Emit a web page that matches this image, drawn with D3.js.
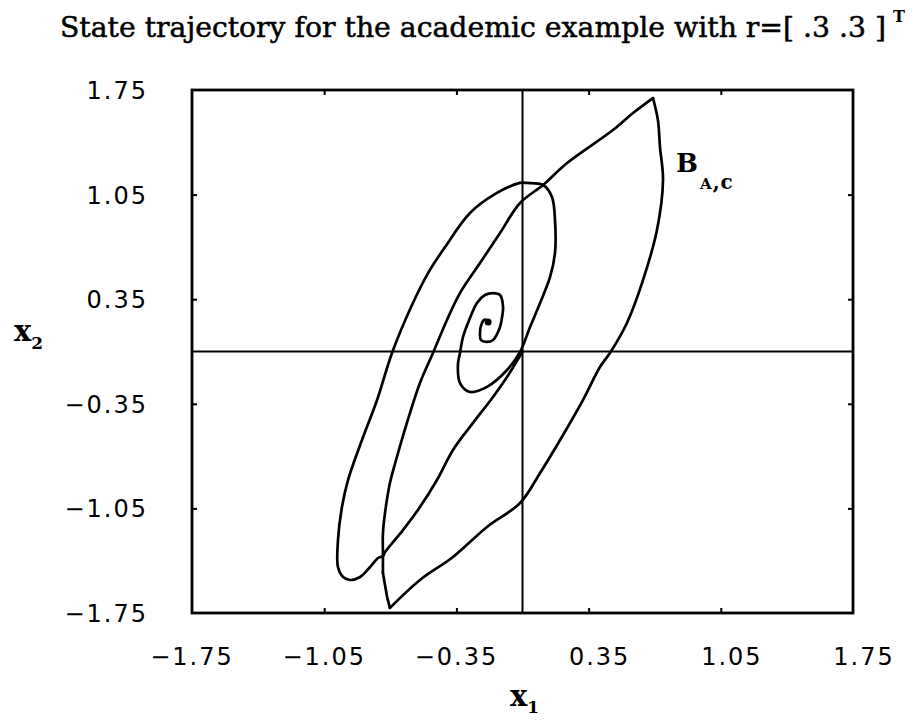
<!DOCTYPE html>
<html>
<head>
<meta charset="utf-8">
<script src="https://cdn.jsdelivr.net/npm/d3@7"></script>
<style>
  body { margin: 0; background: #fff; }
  svg { display: block; }
</style>
</head>
<body>
<svg id="chart" width="912" height="721"></svg>
<script>
// Axis ticks (both axes share the same range)
const xTicks = [-1.75, -1.05, -0.35, 0.35, 1.05, 1.75];
const yTicks = [-1.75, -1.05, -0.35, 0.35, 1.05, 1.75];

// Boundary of the set B_{A,c} (closed curve, x1 / x2)
const regionX = [0.691, 0.585, 0.479, 0.236, 0.109, -0.013, -0.119, -0.225, -0.331, -0.400, -0.474, -0.543, -0.612, -0.665, -0.702, -0.728, -0.739, -0.739, -0.739, -0.717, -0.702, -0.543, -0.368, -0.188, -0.013, 0.093, 0.199, 0.320, 0.410, 0.463, 0.553, 0.638, 0.712, 0.744, 0.728, 0.717, 0.691];
const regionY = [1.696, 1.596, 1.482, 1.261, 1.114, 0.994, 0.793, 0.592, 0.391, 0.211, -0.010, -0.211, -0.478, -0.706, -0.880, -1.081, -1.215, -1.362, -1.482, -1.643, -1.716, -1.529, -1.375, -1.174, -1.014, -0.813, -0.592, -0.325, -0.104, -0.010, 0.191, 0.478, 0.813, 1.148, 1.368, 1.549, 1.696];
// Corners of the boundary (indices into the arrays above)
const regionCorners = [18, 20];

// State trajectory starting at the origin and spiralling to its equilibrium
const trajX = [0, -0.082, -0.156, -0.262, -0.368, -0.453, -0.543, -0.633, -0.728, -0.739, -0.765, -0.807, -0.860, -0.913, -0.950, -0.977, -0.977, -0.956, -0.924, -0.850, -0.770, -0.691, -0.590, -0.500, -0.410, -0.278, -0.135, -0.013, 0.024, 0.109, 0.156, 0.172, 0.172, 0.146, 0.093, 0.040, -0.013, -0.082, -0.188, -0.278, -0.331, -0.342, -0.331, -0.315, -0.278, -0.241, -0.199, -0.156, -0.119, -0.103, -0.109, -0.119, -0.156, -0.188, -0.220, -0.225, -0.220, -0.204, -0.183, -0.177];
const trajY = [0, -0.171, -0.304, -0.478, -0.659, -0.860, -1.041, -1.195, -1.342, -1.369, -1.382, -1.442, -1.509, -1.529, -1.509, -1.442, -1.262, -1.041, -0.860, -0.592, -0.325, -0.010, 0.298, 0.525, 0.699, 0.927, 1.061, 1.128, 1.128, 1.114, 1.034, 0.880, 0.659, 0.499, 0.325, 0.164, -0.003, -0.124, -0.237, -0.271, -0.211, -0.090, -0.010, 0.097, 0.224, 0.325, 0.378, 0.391, 0.378, 0.298, 0.224, 0.164, 0.077, 0.064, 0.077, 0.124, 0.171, 0.211, 0.204, 0.184];

const svg = d3.select("#chart");
svg.append("rect").attr("width", 912).attr("height", 721).attr("fill", "#fff");

const x = d3.scaleLinear().domain([-1.75, 1.75]).range([192, 853]);
const y = d3.scaleLinear().domain([-1.75, 1.75]).range([613, 90]);

const ink = "#000";
const labelFont = "'DejaVu Sans', sans-serif";
const serif = "'DejaVu Serif', serif";

// Title
svg.append("text")
  .attr("x", 60).attr("y", 37)
  .attr("font-family", serif).attr("font-size", 28)
  .attr("textLength", 826).attr("lengthAdjust", "spacingAndGlyphs")
  .attr("fill", ink).attr("stroke", ink).attr("stroke-width", 0.5)
  .text("State trajectory for the academic example with r=[ .3 .3 ]");
svg.append("text")
  .attr("x", 893).attr("y", 22)
  .attr("font-family", serif).attr("font-size", 16).attr("font-weight", "bold")
  .attr("fill", ink).text("T");

// Inner tick marks on all four sides
const innerX = xTicks.filter(v => Math.abs(v) < 1.75);
const innerY = yTicks.filter(v => Math.abs(v) < 1.75);
const tickLen = 5;
const tickStyle = g => g.call(g => g.select(".domain").remove())
  .call(g => g.selectAll(".tick line").attr("stroke", ink).attr("stroke-width", 2));

svg.append("g").attr("transform", `translate(0,${y(-1.75)})`)
  .call(d3.axisBottom(x).tickValues(innerX).tickSize(-tickLen).tickFormat(""))
  .call(tickStyle);
svg.append("g").attr("transform", `translate(0,${y(1.75)})`)
  .call(d3.axisTop(x).tickValues(innerX).tickSize(-tickLen).tickFormat(""))
  .call(tickStyle);
svg.append("g").attr("transform", `translate(${x(-1.75)},0)`)
  .call(d3.axisLeft(y).tickValues(innerY).tickSize(-tickLen).tickFormat(""))
  .call(tickStyle);
svg.append("g").attr("transform", `translate(${x(1.75)},0)`)
  .call(d3.axisRight(y).tickValues(innerY).tickSize(-tickLen).tickFormat(""))
  .call(tickStyle);

// Zero lines
svg.append("line")
  .attr("x1", x(0)).attr("x2", x(0)).attr("y1", y(1.75)).attr("y2", y(-1.75))
  .attr("stroke", ink).attr("stroke-width", 2);
svg.append("line")
  .attr("x1", x(-1.75)).attr("x2", x(1.75)).attr("y1", y(0)).attr("y2", y(0))
  .attr("stroke", ink).attr("stroke-width", 2);

// Frame
svg.append("rect")
  .attr("x", x(-1.75)).attr("y", y(1.75))
  .attr("width", x(1.75) - x(-1.75)).attr("height", y(-1.75) - y(1.75))
  .attr("fill", "none").attr("stroke", ink).attr("stroke-width", 2.8);

// Tick labels: the sign slot is kept for positive numbers too
function addLabel(sel, v) {
  sel.append("tspan").attr("fill-opacity", v < 0 ? 1 : 0).text("\u2212");
  sel.append("tspan").text(Math.abs(v).toFixed(2));
}
svg.append("g").selectAll("text").data(xTicks).join("text")
  .attr("x", d => x(d)).attr("y", 665)
  .attr("text-anchor", "middle")
  .attr("font-family", labelFont).attr("font-size", 24).attr("letter-spacing", 2)
  .attr("fill", ink)
  .each(function (d) { addLabel(d3.select(this), d); });
svg.append("g").selectAll("text").data(yTicks).join("text")
  .attr("x", 148).attr("y", d => y(d) + 9)
  .attr("text-anchor", "end")
  .attr("font-family", labelFont).attr("font-size", 24).attr("letter-spacing", 2)
  .attr("fill", ink)
  .each(function (d) { if (d < 0) addLabel(d3.select(this), d); else d3.select(this).text(d.toFixed(2)); });

// Axis titles
const xt = svg.append("text").attr("x", 510).attr("y", 706)
  .attr("font-family", serif).attr("font-weight", "bold").attr("font-size", 29).attr("fill", ink);
xt.append("tspan").text("x");
xt.append("tspan").attr("font-size", 17).attr("dy", 7).text("1");

const yt = svg.append("text").attr("x", 14).attr("y", 341)
  .attr("font-family", serif).attr("font-weight", "bold").attr("font-size", 29).attr("fill", ink);
yt.append("tspan").text("x");
yt.append("tspan").attr("font-size", 17).attr("dy", 8).text("2");

// Set label
const bl = svg.append("text").attr("x", 676).attr("y", 172)
  .attr("font-family", serif).attr("font-weight", "bold").attr("font-size", 26).attr("fill", ink);
bl.append("tspan").text("B");
bl.append("tspan").attr("font-size", 15).attr("dy", 17).attr("dx", 2).attr("letter-spacing", 1).text("A");
bl.append("tspan").attr("font-size", 20).attr("letter-spacing", 1).text(",c");

// Curves
const region = regionX.map((v, i) => [v, regionY[i]]);
const traj = trajX.map((v, i) => [v, trajY[i]]);
const smooth = d3.line().x(d => x(d[0])).y(d => y(d[1])).curve(d3.curveCatmullRom.alpha(0.5));
const straight = d3.line().x(d => x(d[0])).y(d => y(d[1]));

// Boundary drawn as smooth runs between its corners
const [c1, c2] = regionCorners;
const regionParts = [
  [smooth, region.slice(0, c1 + 1)],
  [straight, region.slice(c1, c2 + 1)],
  [smooth, region.slice(c2)]
];
regionParts.forEach(([gen, pts]) => {
  svg.append("path")
    .datum(pts)
    .attr("d", gen)
    .attr("fill", "none").attr("stroke", ink).attr("stroke-width", 2.7)
    .attr("stroke-linejoin", "round").attr("stroke-linecap", "round");
});

svg.append("path")
  .datum(traj)
  .attr("d", smooth)
  .attr("fill", "none").attr("stroke", ink).attr("stroke-width", 2.7)
  .attr("stroke-linejoin", "round").attr("stroke-linecap", "round");

// Equilibrium end point of the spiral
const last = traj[traj.length - 1];
svg.append("circle")
  .attr("cx", x(last[0]) - 1).attr("cy", y(last[1]) - 2).attr("r", 3.5)
  .attr("fill", ink);
</script>
</body>
</html>
